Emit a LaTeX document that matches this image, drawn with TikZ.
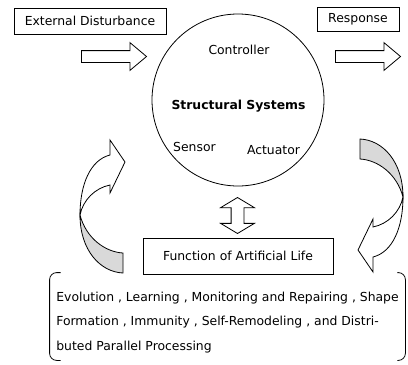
\documentclass[tikz,border=0pt]{standalone}
\usepackage{fontspec}
\setmainfont{DejaVu Sans}
\usetikzlibrary{positioning,shapes.arrows}

\tikzset{
  labelbox/.style={draw, inner sep=0pt, font=\fontsize{12.4}{14}\selectfont},
  inner text/.style={inner sep=0pt, font=\fontsize{12.4}{14}\selectfont},
  blockarrow/.style={single arrow, draw, inner xsep=0pt, inner ysep=5.5pt,
    minimum height=65pt, single arrow head extend=8pt, single arrow tip angle=80},
}

% one twisted loop arrow (shaded back, white front with head)
\newcommand{\twistarrow}{%
  \filldraw[fill=gray!30] (80,215) .. controls (80,250) and (100,272) .. (123,273)
    -- (123,253) .. controls (105,252) and (86,238) .. (80,215) -- cycle;
  \filldraw[fill=white] (110,155) .. controls (90,160) and (80,185) .. (80,215)
    .. controls (83,200) and (95,188) .. (110,185) -- (110,193) -- (125,162)
    -- (110,140) -- cycle;
}

\begin{document}
\begin{tikzpicture}[x=1pt, y=-1pt, line width=0.8pt]
\useasboundingbox (0,0) rectangle (408,365);

%Nodes
\node[labelbox, minimum width=152pt, minimum height=26pt] (dist) at (90,21) {External Disturbance};
\node[labelbox, minimum width=82pt, minimum height=24pt]  (resp) at (358,19) {Response};
\node[draw, circle, minimum size=172pt, inner sep=0pt]     (sys)  at (238,100) {};
\node[inner text] (ctrl)   at (239,50)    {Controller};
\node[inner text, font=\fontsize{12.4}{14}\selectfont\bfseries] (struct) at (238.5,106) {Structural Systems};
\node[inner text] (sensor) at (194.5,147) {Sensor};
\node[inner text] (act)    at (273.5,150) {Actuator};
\node[labelbox, minimum width=190pt, minimum height=36pt] (alife) at (238,256) {Function of Artificial Life};
\node[inner text, align=left, minimum width=355pt, minimum height=87pt,
      font=\fontsize{12.4}{24.5}\selectfont] (tasks) at (227.5,316.5)
  {\rule{0pt}{21pt}Evolution , Learning , Monitoring and Repairing , Shape\\
   Formation , Immunity , Self-Remodeling , and Distri-\\
   buted Parallel Processing};

%Block arrows
\node[blockarrow] (inArrow)  at (110.5,56.5) {};
\node[blockarrow] (outArrow) at (364.5,56.5) {};
\node[double arrow, draw, rotate=90, inner xsep=0pt, inner ysep=6pt,
      minimum height=36pt, double arrow head extend=10.5pt,
      double arrow tip angle=118] (link) at (237.5,215.5) {};

%Brackets
\draw[rounded corners=7pt] ([xshift=11pt]tasks.north west) -- (tasks.north west)
  -- (tasks.south west) -- ([xshift=11pt]tasks.south west);
\draw[rounded corners=7pt] ([xshift=-8pt]tasks.north east) -- (tasks.north east)
  -- (tasks.south east) -- ([xshift=-8pt]tasks.south east);

%Loop arrows
\twistarrow
\begin{scope}[rotate around={180:(241.5,206)}]
  \twistarrow
\end{scope}
\end{tikzpicture}
\end{document}
